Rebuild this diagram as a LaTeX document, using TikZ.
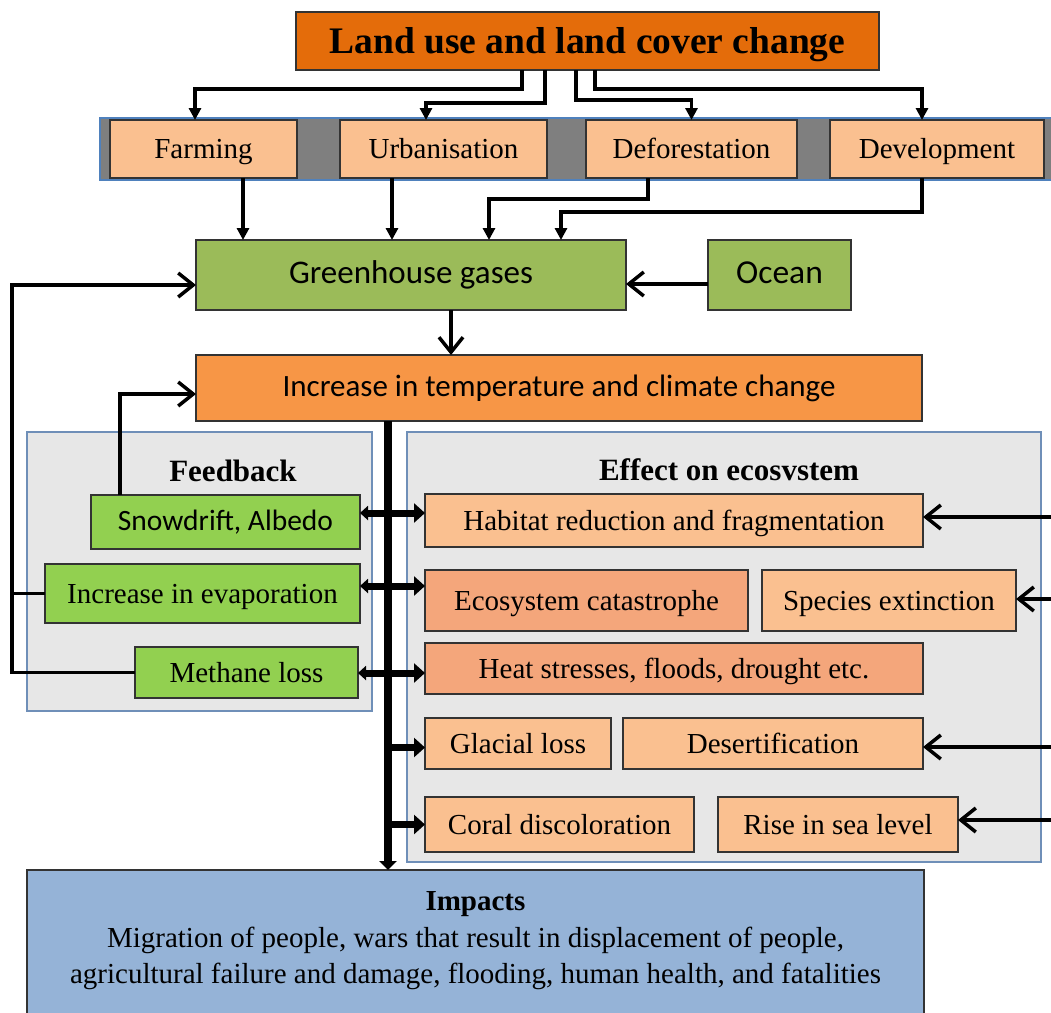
\documentclass[tikz,border=0pt]{standalone}
\usepackage{fontspec}
\setmainfont{Liberation Serif}
\newfontfamily\calib{Carlito}
\usetikzlibrary{arrows.meta}
\definecolor{ttl}{HTML}{E46C0A}
\definecolor{incc}{HTML}{F79646}
\definecolor{ghgc}{HTML}{9BBB59}
\definecolor{fgr}{HTML}{92D050}
\definecolor{lor}{HTML}{FAC090}
\definecolor{sal}{HTML}{F4A67B}
\definecolor{pan}{HTML}{E7E7E7}
\definecolor{panln}{HTML}{6F8FB8}
\definecolor{bandc}{HTML}{7F7F7F}
\definecolor{bandln}{HTML}{4F81BD}
\definecolor{impc}{HTML}{95B3D7}
\definecolor{boxln}{HTML}{333333}
\tikzset{
  bx/.style={draw=boxln, line width=1.3pt, inner sep=0pt, outer sep=0pt},
  serif29/.style={font=\fontsize{29}{34}\selectfont, text height=22pt, text depth=3pt},
  lo/.style={bx, fill=lor, serif29},
  so/.style={bx, fill=sal, serif29},
  gr/.style={bx, fill=fgr, serif29},
  panel/.style={draw=panln, line width=1.5pt, fill=pan, inner sep=0pt, outer sep=0pt},
  tarr/.style={line width=3.5pt, -{Triangle[length=12pt,width=12pt]}},
  oarr/.style={line width=3.5pt, -{Straight Barb[length=15pt,width=24pt]}},
  plain/.style={line width=3.5pt},
  thk/.style={line width=7pt, -{Triangle[length=11pt,width=19pt]}},
  dthk/.style={line width=7pt, {Triangle[length=8pt,width=14pt]}-{Triangle[length=11pt,width=19pt]}},
  barc/.style={line width=8pt, -{Triangle[length=9pt,width=17pt]}},
  hdr/.style={font=\bfseries\fontsize{31}{36}\selectfont, inner sep=0pt}
}
\begin{document}
\begin{tikzpicture}[x=1pt,y=-1pt]
\useasboundingbox (0,0) rectangle (1051,1012);
\clip (0,0) rectangle (1051,1012);

% title
\node[bx, fill=ttl, minimum width=583pt, minimum height=58pt, font=\bfseries\fontsize{37.5}{42}\selectfont, text height=27pt, text depth=3pt] (title) at (587.5,41) {Land use and land cover change};

% band and row
\node[draw=bandln, fill=bandc, line width=1.5pt, inner sep=0pt, minimum width=955pt, minimum height=62pt] (band) at (577.5,149) {};
\node[lo, minimum width=187pt, minimum height=58pt] (farm) at (203.5,149) {Farming};
\node[lo, minimum width=207pt, minimum height=58pt] (urb) at (443.5,149) {Urbanisation};
\node[lo, minimum width=211pt, minimum height=58pt] (defo) at (691.5,149) {Deforestation};
\node[lo, minimum width=214pt, minimum height=58pt] (dev) at (937,149) {Development};

% ghg, ocean, increase
\node[bx, fill=ghgc, minimum width=430pt, minimum height=70pt, font=\calib\fontsize{33}{40}\selectfont, text height=23pt, text depth=6pt] (ghg) at (411,275) {Greenhouse gases};
\node[bx, fill=ghgc, minimum width=143pt, minimum height=70pt, font=\calib\fontsize{33.5}{40}\selectfont, text height=23pt, text depth=6pt] (ocean) at (779.5,275) {Ocean};
\node[bx, fill=incc, minimum width=726pt, minimum height=66pt, font=\calib\fontsize{31}{38}\selectfont] (inc) at (559,388) {Increase in temperature and climate change};

% panels
\node[panel, minimum width=345pt, minimum height=279pt] (fbp) at (199.5,571.5) {};
\node[panel, minimum width=634pt, minimum height=430pt] (efp) at (724,647) {};
\node[hdr] (fbt) at (233,471) {Feedback};
\node[hdr] (eft) at (729,470) {Effect on ecosvstem};

% feedback boxes
\node[bx, fill=fgr, minimum width=269pt, minimum height=54pt, font=\calib\fontsize{29.5}{36}\selectfont] (snow) at (225.5,522) {Snowdrift, Albedo};
\node[gr, minimum width=315pt, minimum height=59pt] (evap) at (202.5,593.5) {Increase in evaporation};
\node[gr, minimum width=223pt, minimum height=51pt] (meth) at (246.5,672.5) {Methane loss};

% effect boxes
\node[lo, minimum width=498pt, minimum height=53pt] (hab) at (674,520.5) {Habitat reduction and fragmentation};
\node[so, minimum width=323pt, minimum height=61pt] (eco) at (586.5,600.5) {Ecosystem catastrophe};
\node[lo, minimum width=254pt, minimum height=61pt] (spec) at (889,600.5) {Species extinction};
\node[so, minimum width=498pt, minimum height=51pt] (heat) at (674,668.5) {Heat stresses, floods, drought etc.};
\node[lo, minimum width=186pt, minimum height=51pt] (glac) at (518,743.5) {Glacial loss};
\node[lo, minimum width=300pt, minimum height=51pt] (des) at (773,743.5) {Desertification};
\node[lo, minimum width=269pt, minimum height=55pt] (cor) at (559.5,824.5) {Coral discoloration};
\node[lo, minimum width=240pt, minimum height=55pt] (rise) at (838,824.5) {Rise in sea level};

% impacts
\node[bx, fill=impc, minimum width=897pt, minimum height=150pt] (imp) at (475.5,945) {};
\node[align=center, font=\fontsize{29}{36.5}\selectfont, inner sep=0pt] (imptxt) at (475.5,941) {\textbf{Impacts}\\Migration of people, wars that result in displacement of people,\\agricultural failure and damage, flooding, human health, and fatalities};

% title connectors
\draw[tarr] ([xshift=-65.5pt]title.south) -- ++(0,19) -| ([xshift=-8.5pt]farm.north);
\draw[tarr] ([xshift=-42.5pt]title.south) -- ++(0,33) -| ([xshift=-17.5pt]urb.north);
\draw[tarr] ([xshift=-11.5pt]title.south) -- ++(0,30) -| ([xshift=0pt]defo.north);
\draw[tarr] ([xshift=7.5pt]title.south) -- ++(0,19) -| ([xshift=-15pt]dev.north);

% row to ghg
\draw[tarr] ([xshift=39.5pt]farm.south) -- ([xshift=39.5pt]farm.south |- ghg.north);
\draw[tarr] ([xshift=-51.5pt]urb.south) -- ([xshift=-51.5pt]urb.south |- ghg.north);
\draw[tarr] ([xshift=-43.5pt]defo.south) -- ++(0,21) -| ([xshift=78pt]ghg.north);
\draw[tarr] ([xshift=-15pt]dev.south) -- ++(0,34) -| ([xshift=150pt]ghg.north);

% ocean, ghg -> increase
\draw[oarr] ([yshift=-9pt]ocean.west) -- ([yshift=-9pt]ghg.east);
\draw[oarr] ([xshift=40pt]ghg.south) -- ([xshift=40pt]ghg.south |- inc.north);

% feedback loop
\coordinate (lp) at ([xshift=-184pt,yshift=-10pt]ghg.west);
\draw[oarr] (meth.west) -| (lp) -- (lp -| ghg.west);
\draw[plain] (evap.west) -- (evap.west -| lp);
\draw[oarr] ([xshift=-105.5pt]snow.north) |- ([yshift=-6pt]inc.west);

% thick bar
\coordinate (bx) at ([xshift=-171pt]inc.south);
\draw[barc] (bx) -- (bx |- imp.north);
\draw[dthk] ([yshift=9pt]snow.east) -- ([yshift=9pt]snow.east -| hab.west);
\draw[dthk] ([yshift=7.5pt]evap.east) -- ([yshift=7.5pt]evap.east -| eco.west);
\draw[dthk] ([yshift=-0.5pt]meth.east) -- ([yshift=-0.5pt]meth.east -| heat.west);
\draw[thk] ([yshift=-4pt]glac.west -| bx) -- ([yshift=-4pt]glac.west);
\draw[thk] (cor.west -| bx) -- (cor.west);

% right side inputs
\coordinate (r1) at (1056,517);
\coordinate (r2) at (1056,599);
\coordinate (r3) at (1056,747);
\coordinate (r4) at (1056,820);
\draw[oarr] (r1) -- (r1 -| hab.east);
\draw[oarr] (r2) -- (r2 -| spec.east);
\draw[oarr] (r3) -- (r3 -| des.east);
\draw[oarr] (r4) -- (r4 -| rise.east);
\end{tikzpicture}
\end{document}
